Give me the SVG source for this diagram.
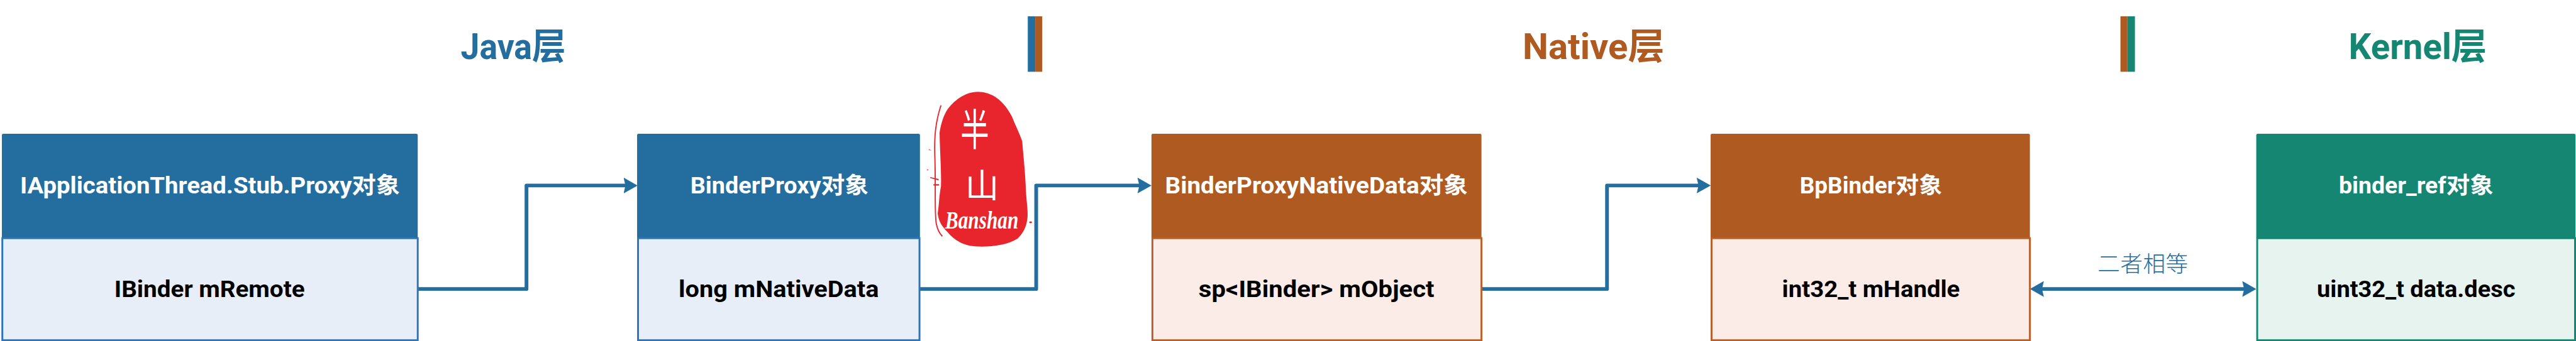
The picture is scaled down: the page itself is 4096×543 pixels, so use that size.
<svg xmlns="http://www.w3.org/2000/svg" width="4096" height="543" viewBox="0 0 4096 543">
<style>
text{font-family:"Roboto","Noto Sans CJK SC",sans-serif;font-weight:700}
.hd{font-size:49px;fill:#fff}
.bd{font-size:49px;fill:#000}
.tt{font-size:78px}
.blue{fill:#246e9f}.brown{fill:#ae5a21}.green{fill:#148672}
.bb{fill:#e8eef7;stroke:#2e75b6;stroke-width:4}
.bn{fill:#fbece7;stroke:#b9602a;stroke-width:4}
.bg{fill:#e7f3ee;stroke:#148672;stroke-width:4}
.cn{fill:none;stroke:#246e9f;stroke-width:8;stroke-linejoin:round}
.st{fill:#e8242c}
.sw{fill:none;stroke:#e8242c}
.si{fill:#fff;font-family:"Noto Sans CJK SC","Noto Sans",sans-serif;font-weight:400}
</style>
<defs>
<marker id="ah" markerUnits="userSpaceOnUse" markerWidth="30" markerHeight="34" viewBox="0 0 30 34" refX="20" refY="17" orient="auto-start-reverse">
<path d="M0 0L30 17L0 34L4 17Z" fill="#246e9f"/>
</marker>
</defs>
<g transform="scale(0.74216)">
<g id="titles">
<text class="tt blue" x="987" y="126" textLength="225" lengthAdjust="spacingAndGlyphs">Java层</text>
<text class="tt brown" x="3262" y="126" textLength="304" lengthAdjust="spacingAndGlyphs">Native层</text>
<text class="tt green" x="5032" y="126" textLength="296" lengthAdjust="spacingAndGlyphs">Kernel层</text>
</g>
<g id="divider-1">
<rect class="blue" x="2202" y="35" width="16" height="119"/>
<rect class="brown" x="2218" y="35" width="15" height="119"/>
</g>
<g id="divider-2">
<rect class="brown" x="4543" y="35" width="15" height="119"/>
<rect class="green" x="4558" y="35" width="16" height="119"/>
</g>
<g id="connectors">
<path class="cn" d="M895 620H1128V398H1356" marker-end="url(#ah)"/>
<path class="cn" d="M1970 620H2220V398H2457" marker-end="url(#ah)"/>
<path class="cn" d="M3174 620H3443V398H3655" marker-end="url(#ah)"/>
<path class="cn" d="M4359 620H4824" marker-start="url(#ah)" marker-end="url(#ah)"/>
<text x="4494" y="584" font-size="48" fill="#246e9f" style="font-family:'Noto Sans CJK SC',sans-serif;font-weight:300" textLength="194">二者相等</text>
</g>
<g id="node-iapplicationthread">
<rect class="blue" x="4" y="287" width="891" height="225" rx="3"/>
<rect class="bb" x="5" y="511" width="890" height="219"/>
<text class="hd" x="43" y="415" textLength="814" lengthAdjust="spacingAndGlyphs">IApplicationThread.Stub.Proxy对象</text>
<text class="bd" x="245" y="638" textLength="408" lengthAdjust="spacingAndGlyphs">IBinder mRemote</text>
</g>
<g id="node-binderproxy">
<rect class="blue" x="1365" y="287" width="606" height="225" rx="3"/>
<rect class="bb" x="1367" y="511" width="603" height="219"/>
<text class="hd" x="1479" y="415" textLength="382" lengthAdjust="spacingAndGlyphs">BinderProxy对象</text>
<text class="bd" x="1454" y="638" textLength="429" lengthAdjust="spacingAndGlyphs">long mNativeData</text>
</g>
<g id="stamp">
<path class="st" d="M2095 197C2125 197 2150 215 2168 250C2175 268 2184 285 2190 303C2193 340 2197 375 2198 410C2200 440 2203 455 2201 470C2198 490 2192 500 2180 512C2160 525 2125 530 2095 529C2065 528 2045 516 2030 498C2018 485 2011 475 2009 458C2012 440 2012 420 2016 400C2017 370 2014 330 2013 285C2016 265 2022 245 2032 232C2050 210 2072 197 2095 197Z"/>
<path class="sw" stroke-width="2.5" d="M2016 226C2005 260 2001 290 2003 340C2005 400 2002 460 2006 480C2009 495 2014 502 2019 507"/>
<path class="st" d="M1990 320l6 3l-6 -1ZM1986 363l4 2l-4 0ZM1993 380l18 4l0 3l-18 -5ZM2000 395h12v3h-12ZM2208 475a3 2 0 1 0 .1 0ZM2222 432a2 1 0 1 0 .1 0Z"/>
<text class="si" transform="translate(2058 313) scale(.85 1.3)" font-size="72">半</text>
<text class="si" transform="translate(2068 424)" font-size="72">山</text>
<text class="si" x="2025" y="490" font-size="54" textLength="157" lengthAdjust="spacingAndGlyphs" style="font-family:'Liberation Serif',serif;font-style:italic;font-weight:700">Banshan</text>
</g>
<g id="node-binderproxynativedata">
<rect class="brown" x="2467" y="287" width="707" height="225" rx="3"/>
<rect class="bn" x="2469" y="511" width="705" height="219"/>
<text class="hd" x="2496" y="415" textLength="649" lengthAdjust="spacingAndGlyphs">BinderProxyNativeData对象</text>
<text class="bd" x="2568" y="638" textLength="505" lengthAdjust="spacingAndGlyphs">sp&lt;IBinder&gt; mObject</text>
</g>
<g id="node-bpbinder">
<rect class="brown" x="3665" y="287" width="684" height="225" rx="3"/>
<rect class="bn" x="3667" y="511" width="682" height="219"/>
<text class="hd" x="3856" y="415" textLength="305" lengthAdjust="spacingAndGlyphs">BpBinder对象</text>
<text class="bd" x="3818" y="638" textLength="381" lengthAdjust="spacingAndGlyphs">int32_t mHandle</text>
</g>
<g id="node-binderref">
<rect class="green" x="4834" y="287" width="684" height="225" rx="3"/>
<rect class="bg" x="4836" y="511" width="681" height="219"/>
<text class="hd" x="5011" y="415" textLength="331" lengthAdjust="spacingAndGlyphs">binder_ref对象</text>
<text class="bd" x="4964" y="638" textLength="425" lengthAdjust="spacingAndGlyphs">uint32_t data.desc</text>
</g>
</g>
</svg>
